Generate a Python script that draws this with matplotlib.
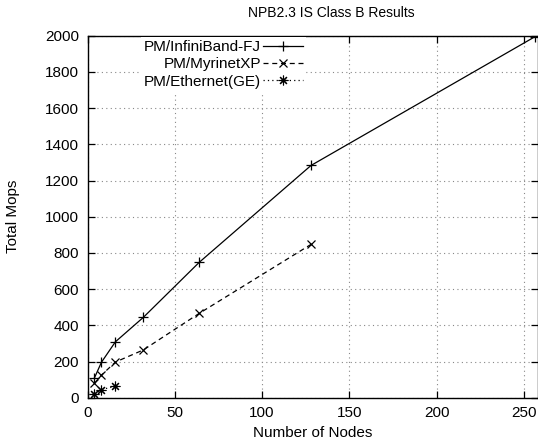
import matplotlib
matplotlib.use("Agg")
import matplotlib.pyplot as plt

plt.rcParams["font.family"] = ["Liberation Sans", "DejaVu Sans"]

# node counts and Total Mops
ib_nodes = [4, 8, 16, 32, 64, 128, 256]
ib_mops = [110, 196, 309, 444, 748, 1283, 1993]

myri_nodes = [4, 8, 16, 32, 64, 128]
myri_mops = [80, 125, 197, 264, 466, 847]

eth_nodes = [4, 8, 16]
eth_mops = [18, 45, 63]

x_ticks = [0, 50, 100, 150, 200, 250]
y_ticks = list(range(0, 2001, 200))

fig = plt.figure(figsize=(5.38, 4.46), dpi=100)
ax = fig.add_axes([87.5 / 538, 1 - 397.7 / 446, (538 - 87.5) / 538, (397.7 - 35.7) / 446])

ax.plot(ib_nodes, ib_mops, color="black", linestyle="-", linewidth=0.9,
        marker="+", markersize=7, markeredgewidth=0.9, label="PM/InfiniBand-FJ")
ax.plot(myri_nodes, myri_mops, color="black", linestyle=(0, (4, 3)), linewidth=0.9,
        marker="x", markersize=6, markeredgewidth=0.9, label="PM/MyrinetXP")
ax.plot(eth_nodes, eth_mops, color="black", linestyle=(0, (1, 2.5)), linewidth=0.9,
        marker=(8, 2, 0), markersize=7, markeredgewidth=0.8, label="PM/Ethernet(GE)")

ax.set_xlim(0, 258)
ax.set_ylim(0, 2000)
ax.set_xticks(x_ticks)
ax.set_yticks(y_ticks)
ax.tick_params(direction="in", length=5, width=0.9, top=True, right=True,
               labelsize=11, pad=6)
ax.grid(True, color="#888888", linestyle=(0, (1, 3)), linewidth=0.8)
ax.set_axisbelow(True)
for s in ax.spines.values():
    s.set_linewidth(1.0)

ax.set_xlabel("Number of Nodes", fontsize=11, labelpad=4)
ax.set_ylabel("Total Mops", fontsize=11, labelpad=18)
fig.text(331 / 538, 1 - 13 / 446, "NPB2.3 IS Class B Results",
         ha="center", va="center", fontsize=10)

leg = ax.legend(loc="upper right", bbox_to_anchor=(306 / 538, 1 - 37 / 446),
                bbox_transform=fig.transFigure, markerfirst=False, fontsize=11,
                handlelength=2.6, handletextpad=0.15, labelspacing=0.22,
                borderpad=0.2, borderaxespad=0, frameon=True, fancybox=False)
leg.get_frame().set_facecolor("white")
leg.get_frame().set_edgecolor("none")
leg.get_frame().set_alpha(1)

plt.savefig("out.png", dpi=100)
plt.close()
